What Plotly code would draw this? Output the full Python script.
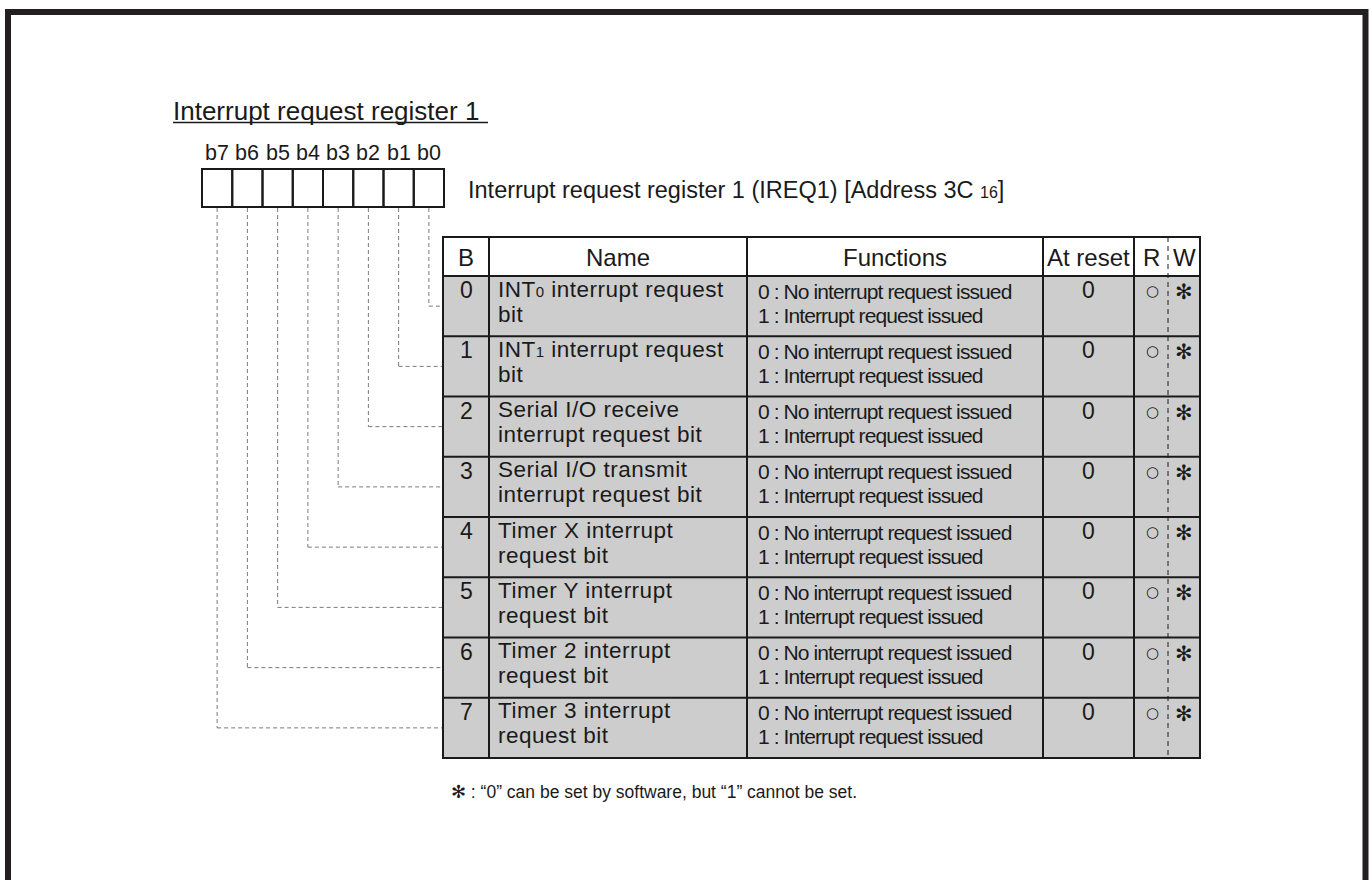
import plotly.graph_objects as go

# ---------------- data ----------------
title = "Interrupt request register 1"
register_label = "Interrupt request register 1 (IREQ1) [Address 3C <span style=\"font-size:16px\">16</span>]"
bit_labels = ["b7", "b6", "b5", "b4", "b3", "b2", "b1", "b0"]
headers = ["B", "Name", "Functions", "At reset", "R", "W"]
bit_numbers = ["0", "1", "2", "3", "4", "5", "6", "7"]
sub = lambda s: '<span style="font-size:15px">' + s + '</span>'
name_line1 = ["INT" + sub("0") + " interrupt request", "INT" + sub("1") + " interrupt request",
              "Serial I/O receive", "Serial I/O transmit", "Timer X interrupt",
              "Timer Y interrupt", "Timer 2 interrupt", "Timer 3 interrupt"]
name_line2 = ["bit", "bit", "interrupt request bit", "interrupt request bit",
              "request bit", "request bit", "request bit", "request bit"]
func_line1 = ["0 : No interrupt request issued"] * 8
func_line2 = ["1 : Interrupt request issued"] * 8
at_reset = ["0"] * 8
read_mark = ["\u25cb"] * 8
write_mark = ["\u273b"] * 8
footnote = "\u273b : \u201c0\u201d can be set by software, but \u201c1\u201d cannot be set."

# ---------------- layout constants ----------------
W, H = 1372, 880
FONT = "Liberation Sans, Arial, sans-serif"
INK = "#1a1a1a"
GRAY = "#cdcdcd"

reg_x0, reg_w, reg_y0, reg_y1 = 202, 30.25, 169, 207
col_x = [443, 489, 747, 1043, 1134, 1168, 1200]
tab_top, head_bot, row_h = 237, 276, 60.25
n_rows = len(bit_numbers)
tab_bot = head_bot + row_h * n_rows

shapes = []
ann = []

def text(x, y, s, size=22, xanchor="left", family=FONT, color=INK, weight=None):
    f = dict(family=family, size=size, color=color)
    if weight:
        f["weight"] = weight
    ann.append(dict(x=x, y=y, text=s, showarrow=False, xanchor=xanchor, yanchor="middle",
                    font=f, xref="x", yref="y"))

def line(x0, y0, x1, y1, width=2, color=INK, dash=None):
    d = dict(type="line", x0=x0, y0=y0, x1=x1, y1=y1, xref="x", yref="y",
             line=dict(color=color, width=width))
    if dash:
        d["line"]["dash"] = dash
    shapes.append(d)

def spaced(s, ls):
    return '<span style="letter-spacing:%.2fpx">%s</span>' % (ls, s)

# page frame
shapes.append(dict(type="rect", x0=8, y0=12, x1=1365.5, y1=H + 20, xref="x", yref="y",
                   line=dict(color="#231f20", width=6)))

# title with underline
text(171, 111, title, size=26)
line(173, 122.5, 488, 122.5, width=1.5)

# register bits
for i, lab in enumerate(bit_labels):
    cx = reg_x0 + reg_w * (i + 0.5)
    text(cx, 153, lab, size=21.5, xanchor="center")
    shapes.append(dict(type="rect", x0=reg_x0 + reg_w * i, x1=reg_x0 + reg_w * (i + 1),
                       y0=reg_y0, y1=reg_y1, xref="x", yref="y", line=dict(color=INK, width=2)))
text(466, 190, register_label, size=23.5)

# row fills
for r in range(n_rows):
    shapes.append(dict(type="rect", x0=col_x[0], x1=col_x[-1], y0=head_bot + row_h * r,
                       y1=head_bot + row_h * (r + 1), xref="x", yref="y",
                       fillcolor=GRAY, line=dict(width=0), layer="below"))

# dashed connectors: bit b(k) -> row k
for r in range(n_rows):
    i = len(bit_labels) - 1 - r
    cx = reg_x0 + reg_w * (i + 0.5)
    cy = head_bot + row_h * (r + 0.5)
    line(cx, reg_y1 + 1, cx, cy, width=1, color="#7a7a7a", dash="4px,3px")
    line(cx, cy, col_x[0], cy, width=1, color="#7a7a7a", dash="4px,3px")

# table grid
for r in range(n_rows + 1):
    y = head_bot + row_h * r
    line(col_x[0], y, col_x[-1], y, width=2)
line(col_x[0] - 1, tab_top, col_x[-1] + 1, tab_top, width=2)
for j, x in enumerate(col_x):
    if j == 5:
        line(x, tab_top, x, tab_bot, width=1, dash="5px,4px")
    else:
        line(x, tab_top - 1, x, tab_bot + 1, width=2)

# headers
head_cy = (tab_top + head_bot) / 2 + 1
for j, h in enumerate(headers):
    cx = (col_x[j] + col_x[j + 1]) / 2
    text(cx, head_cy, h, size=24, xanchor="center")

# rows
for r in range(n_rows):
    top = head_bot + row_h * r
    text((col_x[0] + col_x[1]) / 2, top + 14, bit_numbers[r], size=23, xanchor="center")
    text(col_x[1] + 7, top + 13, spaced(name_line1[r], 0.5), size=22.5)
    text(col_x[1] + 7, top + 38, spaced(name_line2[r], 0.5), size=22.5)
    text(col_x[2] + 9, top + 15, spaced(func_line1[r], -0.9), size=21)
    text(col_x[2] + 9, top + 39, spaced(func_line2[r], -0.9), size=21)
    text((col_x[3] + col_x[4]) / 2, top + 14, at_reset[r], size=23, xanchor="center")
    text((col_x[4] + col_x[5]) / 2 + 1, top + 15, read_mark[r], size=15, xanchor="center",
         family="DejaVu Sans, sans-serif")
    text((col_x[5] + col_x[6]) / 2, top + 16, write_mark[r], size=21, xanchor="center",
         family="DejaVu Sans, sans-serif", weight="bold")

# footnote
text(449, 792, footnote, size=17.5)

fig = go.Figure()
fig.update_layout(width=W, height=H, margin=dict(l=0, r=0, t=0, b=0),
                  paper_bgcolor="white", plot_bgcolor="white",
                  xaxis=dict(range=[0, W], visible=False, fixedrange=True),
                  yaxis=dict(range=[H, 0], visible=False, fixedrange=True),
                  shapes=shapes, annotations=ann, showlegend=False)
fig.write_html("out.html", post_script="document.body.style.margin='0';",
               config={"displayModeBar": False})
